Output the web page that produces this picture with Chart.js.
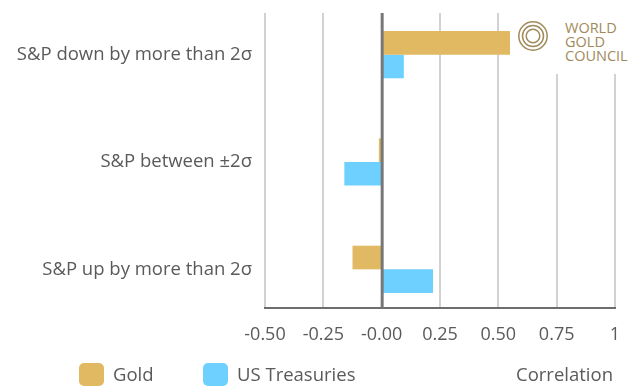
<!DOCTYPE html>
<html>
<head>
<meta charset="utf-8">
<script src="https://cdn.jsdelivr.net/npm/chart.js@4.4.1/dist/chart.umd.min.js"></script>
<style>
  body { margin: 0; background: #fff; }
  #wrap { position: relative; width: 633px; height: 389px; font-family: "Open Sans", sans-serif; color: #5a5a5a; }
  #logo { position: absolute; left: 510px; top: 0; width: 123px; height: 74px; background: #fff; }
  #logo svg { position: absolute; left: 7px; top: 20px; }
  #logo .txt { position: absolute; left: 55px; top: 21px; font-size: 14.5px; line-height: 14px; color: #a08a5a; }
  .leg { position: absolute; top: 362px; font-size: 18.5px; line-height: 24px; display: flex; align-items: center; }
  .leg i { display: inline-block; width: 25px; height: 23px; border-radius: 5px; margin-right: 9px; }
  #corr { position: absolute; right: 20px; top: 362px; font-size: 18.5px; line-height: 24px; }
</style>
</head>
<body>
<div id="wrap">
  <canvas id="barChart" width="633" height="389"></canvas>
  <div id="logo">
    <svg width="32" height="32" viewBox="0 0 32 32">
      <circle cx="16" cy="16" r="14.2" fill="none" stroke="#a08a5a" stroke-width="1.5"/>
      <circle cx="16" cy="16" r="10.5" fill="none" stroke="#a08a5a" stroke-width="1.5"/>
      <circle cx="16" cy="16" r="6.8" fill="none" stroke="#a08a5a" stroke-width="1.5"/>
    </svg>
    <div class="txt">WORLD<br>GOLD<br>COUNCIL</div>
  </div>
  <div class="leg" style="left:79px"><i style="background:#e0b962"></i>Gold</div>
  <div class="leg" style="left:203px"><i style="background:#6dd0ff"></i>US Treasuries</div>
  <div id="corr">Correlation</div>
</div>
<script>
const categories = [
  "S&P down by more than 2σ",
  "S&P between ±2σ",
  "S&P up by more than 2σ",
];
const goldValues = [0.55, -0.012, -0.125];
const treasuryValues = [0.095, -0.16, 0.22];
const tickLabels = ["-0.50", "-0.25", "-0.00", "0.25", "0.50", "0.75", "1"];

// grid is drawn by hand so it stops short of the category bands
const gridPlugin = {
  id: "grid",
  beforeDatasetsDraw(chart) {
    const ctx = chart.ctx;
    const x = chart.scales.x;
    const top = 13, bottom = 308;
    ctx.save();
    x.ticks.forEach((t) => {
      const px = Math.round(x.getPixelForValue(t.value));
      if (t.value === 0) return;
      ctx.strokeStyle = "#d2d2d2";
      ctx.lineWidth = 2;
      ctx.beginPath();
      ctx.moveTo(px, top);
      ctx.lineTo(px, bottom);
      ctx.stroke();
    });
    ctx.strokeStyle = "#6e6e6e";
    ctx.lineWidth = 2;
    ctx.beginPath();
    ctx.moveTo(x.getPixelForValue(-0.5) - 1, bottom);
    ctx.lineTo(x.getPixelForValue(1) + 1, bottom);
    ctx.stroke();
    ctx.restore();
  },
  afterDatasetsDraw(chart) {
    const ctx = chart.ctx;
    const px = chart.scales.x.getPixelForValue(0);
    ctx.save();
    ctx.strokeStyle = "#777";
    ctx.lineWidth = 3;
    ctx.beginPath();
    ctx.moveTo(px + 0.5, 13);
    ctx.lineTo(px + 0.5, 308);
    ctx.stroke();
    ctx.restore();
  },
};

var ctx = document.getElementById("barChart").getContext("2d");
var barChart = new Chart(ctx, {
  type: "bar",
  data: {
    labels: categories,
    datasets: [
      {
        label: "Gold",
        data: goldValues,
        backgroundColor: "#e0b962",
      },
      {
        label: "US Treasuries",
        data: treasuryValues,
        backgroundColor: "#6dd0ff",
      },
    ],
  },
  options: {
    indexAxis: "y",
    responsive: false,
    animation: false,
    devicePixelRatio: 1,
    layout: { padding: { top: 1, right: 18, bottom: 36, left: 0 } },
    datasets: { bar: { barPercentage: 1, categoryPercentage: 0.44 } },
    plugins: {
      legend: { display: false },
      tooltip: { enabled: false },
    },
    scales: {
      x: {
        min: -0.5,
        max: 1,
        grid: { display: false, drawTicks: false },
        border: { display: false },
        afterFit: (s) => {
          s.height = 30;
          s.paddingLeft = 0;
          s.paddingRight = 0;
        },
        afterBuildTicks: (s) => {
          s.ticks = tickLabels.map((_, i) => ({ value: -0.5 + i * 0.25 }));
        },
        ticks: {
          padding: 1,
          color: "#5a5a5a",
          font: { family: "Open Sans", size: 18 },
          callback: (v, i) => tickLabels[i],
        },
      },
      y: {
        grid: { display: false, drawTicks: false },
        border: { display: false },
        afterFit: (s) => {
          s.width = 265;
          s.paddingTop = 0;
          s.paddingBottom = 0;
        },
        ticks: {
          padding: 13,
          color: "#5a5a5a",
          font: { family: "Open Sans", size: 18.5 },
        },
      },
    },
  },
  plugins: [gridPlugin],
});
</script>
</body>
</html>
